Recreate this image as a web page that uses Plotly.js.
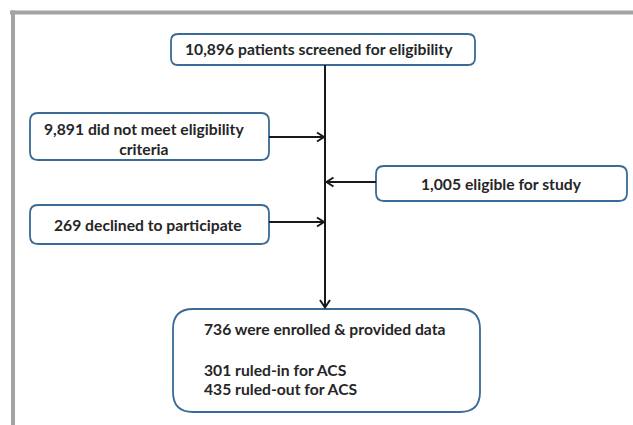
<!DOCTYPE html>
<html>
<head>
<meta charset="utf-8">
<script src="https://cdn.plot.ly/plotly-3.0.1.min.js"></script>
<style>html,body{margin:0;padding:0;background:#fff}#chart{width:633px;height:425px}</style>
</head>
<body>
<div id="chart"></div>
<script>
// Flow counts
const screened = 10896;
const notEligible = 9891;
const eligible = 1005;
const declined = 269;
const enrolled = 736;
const ruledIn = 301;
const ruledOut = 435;

const fmt = n => n.toLocaleString('en-US');

// Box labels
const boxLabels = [
  fmt(screened) + ' patients screened for eligibility',
  fmt(notEligible) + ' did not meet eligibility<br>criteria',
  fmt(eligible) + ' eligible for study',
  fmt(declined) + ' declined to participate'
];
const finalLines = [
  fmt(enrolled) + ' were enrolled & provided data',
  fmt(ruledIn) + ' ruled-in for ACS',
  fmt(ruledOut) + ' ruled-out for ACS'
];

// Layout geometry (pixels)
const boxGeom = [
  {x0:171, y0:34,  x1:475, y1:65,  r:7},
  {x0:30,  y0:113, x1:269, y1:160, r:8},
  {x0:376, y0:166, x1:627, y1:201, r:8},
  {x0:30,  y0:205, x1:269, y1:244, r:8},
  {x0:173, y0:309, x1:480, y1:412, r:20}
];
const textPos = [
  {x:319, y:49},
  {x:144, y:139},
  {x:501, y:184},
  {x:148, y:225}
];
const finalPos = [{x:202, y:329}, {x:202, y:370}, {x:202, y:389}];
const spineX = 325;

const BLUE = '#3a6a96', INK = '#262626', FONT = 'Lato, sans-serif', FS = 15.7;

function rr(g){
  const {x0,y0,x1,y1,r} = g;
  return `M${x0+r},${y0} L${x1-r},${y0} Q${x1},${y0} ${x1},${y0+r} L${x1},${y1-r} Q${x1},${y1} ${x1-r},${y1} L${x0+r},${y1} Q${x0},${y1} ${x0},${y1-r} L${x0},${y0+r} Q${x0},${y0} ${x0+r},${y0} Z`;
}

const shapes = [];
// frame
shapes.push({type:'line', xref:'x', yref:'y', x0:10, x1:633, y0:12.5, y1:12.5, line:{color:'#a3a3a3', width:4}});
shapes.push({type:'line', xref:'x', yref:'y', x0:13, x1:13, y0:10.5, y1:425, line:{color:'#a3a3a3', width:4}});
// boxes
boxGeom.forEach(g => shapes.push({type:'path', xref:'x', yref:'y', path:rr(g), fillcolor:'#ffffff', line:{color:BLUE, width:1.8}}));
// spine
const LN = {color:'#1a1a1a', width:2};
shapes.push({type:'line', xref:'x', yref:'y', x0:spineX, x1:spineX, y0:boxGeom[0].y1, y1:307.5, line:LN});
shapes.push({type:'path', xref:'x', yref:'y', path:`M${spineX-5},${300} L${spineX},${307.5} L${spineX+5},${300}`, line:LN});
// side arrows
function hArrow(xFrom, xTo, y){
  const d = xTo > xFrom ? -1 : 1;
  shapes.push({type:'line', xref:'x', yref:'y', x0:xFrom, x1:xTo, y0:y, y1:y, line:LN});
  shapes.push({type:'path', xref:'x', yref:'y', path:`M${xTo+d*7},${y-4.5} L${xTo},${y} L${xTo+d*7},${y+4.5}`, line:LN});
}
hArrow(boxGeom[1].x1, spineX-1, 137);
hArrow(boxGeom[2].x0, spineX+1.5, 182);
hArrow(boxGeom[3].x1, spineX-1, 222);

const annotations = [];
boxLabels.forEach((t,i) => annotations.push({xref:'x', yref:'y', x:textPos[i].x, y:textPos[i].y, text:'<b>'+t+'</b>', showarrow:false, xanchor:'center', yanchor:'middle', align:'center', font:{family:FONT, size:FS, color:INK}}));
finalLines.forEach((t,i) => annotations.push({xref:'x', yref:'y', x:finalPos[i].x, y:finalPos[i].y, text:'<b>'+t+'</b>', showarrow:false, xanchor:'left', yanchor:'middle', align:'left', font:{family:FONT, size:FS, color:INK}}));

Plotly.newPlot('chart', [], {
  width:633, height:425,
  margin:{l:0, r:0, t:0, b:0},
  paper_bgcolor:'#ffffff', plot_bgcolor:'#ffffff',
  xaxis:{range:[0,633], visible:false, fixedrange:true},
  yaxis:{range:[425,0], visible:false, fixedrange:true},
  shapes, annotations, showlegend:false
}, {displayModeBar:false, staticPlot:true});
</script>
</body>
</html>
